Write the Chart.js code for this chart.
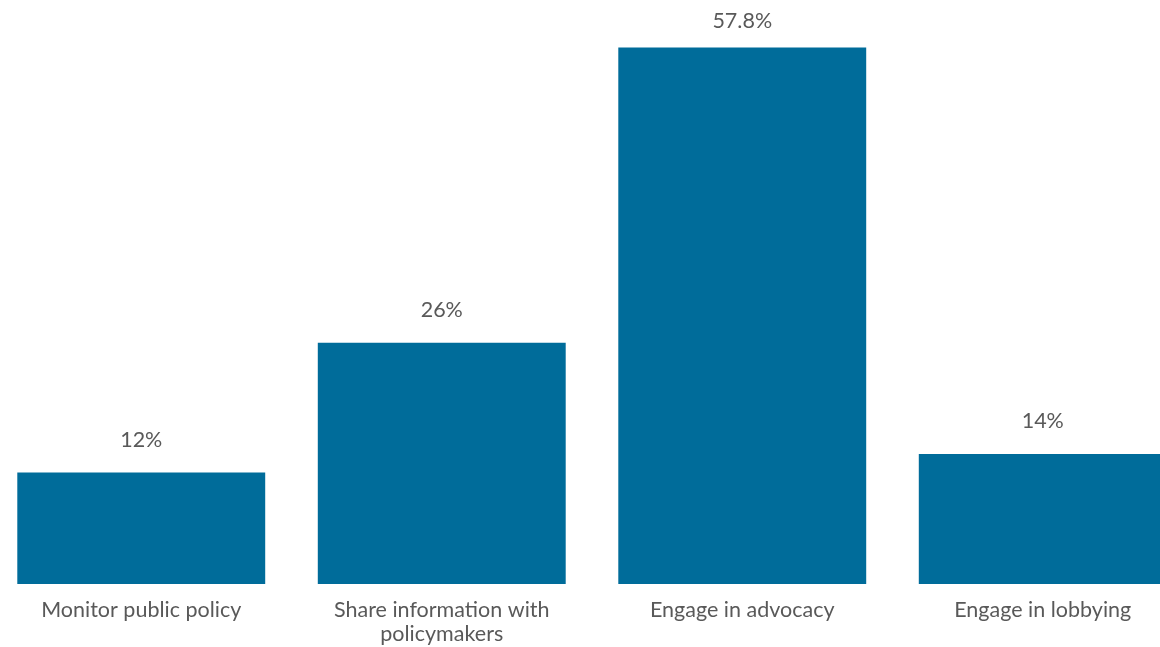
<!DOCTYPE html>
<html>
<head>
<meta charset="utf-8">
<script src="https://cdn.jsdelivr.net/npm/chart.js@4/dist/chart.umd.min.js"></script>
<style>
  html, body { margin: 0; padding: 0; background: #ffffff; overflow: hidden; }
  #wrap { position: relative; width: 1202px; height: 647px; margin-left: -9px; }
</style>
</head>
<body>
<div id="wrap"><canvas id="chart"></canvas></div>
<script>
// Share of respondents by type of policy engagement
const categories = [
  "Monitor public policy",
  ["Share information with", "policymakers"],
  "Engage in advocacy",
  "Engage in lobbying"
];
const shares = [12, 26, 57.8, 14];

const barColor = "#006c9a";
const textColor = "#595959";
const fontFamily = "Lato, 'Open Sans', sans-serif";
const fontSize = 21.5;

// Writes the percentage above each bar
const valueLabels = {
  id: "valueLabels",
  afterDatasetsDraw(chart) {
    const ctx = chart.ctx;
    const meta = chart.getDatasetMeta(0);
    ctx.save();
    ctx.font = fontSize + "px " + fontFamily;
    ctx.fillStyle = textColor;
    ctx.textAlign = "center";
    ctx.textBaseline = "middle";
    meta.data.forEach((bar, i) => {
      ctx.fillText(shares[i] + "%", bar.x, Math.max(bar.y - 33, 21));
    });
    ctx.restore();
  }
};

new Chart(document.getElementById("chart"), {
  type: "bar",
  data: {
    labels: categories,
    datasets: [{
      data: shares,
      backgroundColor: barColor,
      borderWidth: 0,
      barPercentage: 0.825,
      categoryPercentage: 1
    }]
  },
  options: {
    responsive: true,
    maintainAspectRatio: false,
    animation: false,
    layout: { padding: { top: 27, bottom: 0, left: 0, right: 0 } },
    plugins: {
      legend: { display: false },
      tooltip: { enabled: false }
    },
    scales: {
      x: {
        grid: { display: false, drawTicks: false },
        border: { display: false },
        afterFit(scale) { scale.height = 63; },
        ticks: {
          color: textColor,
          padding: 14,
          maxRotation: 0,
          autoSkip: false,
          font: { family: fontFamily, size: fontSize, lineHeight: 1.12 }
        }
      },
      y: {
        display: false,
        min: 0,
        max: 60
      }
    }
  },
  plugins: [valueLabels]
});
</script>
</body>
</html>
